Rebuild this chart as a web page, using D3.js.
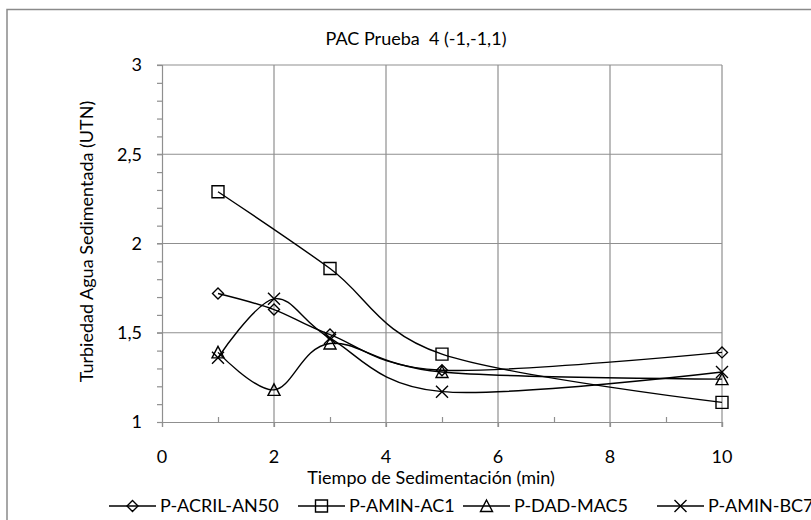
<!DOCTYPE html>
<html>
<head>
<meta charset="utf-8">
<script src="https://cdn.jsdelivr.net/npm/d3@7"></script>
<style>
  html, body { margin: 0; padding: 0; background: #fff; }
  svg { display: block; }
  text { font-family: Lato, "Open Sans", sans-serif; fill: #000; }
</style>
</head>
<body>
<svg id="chart" width="811" height="520"></svg>
<script>
// ---- data ----
const chartTitle = "PAC Prueba  4 (-1,-1,1)";
const xTitle = "Tiempo de Sedimentación (min)";
const yTitle = "Turbiedad Agua Sedimentada (UTN)";
const seriesNames = ["P-ACRIL-AN50", "P-AMIN-AC1", "P-DAD-MAC5", "P-AMIN-BC7"];
const timesA = [1, 2, 3, 5, 10];
const timesB = [1, 3, 5, 10];
const acrilAN50 = [1.72, 1.63, 1.49, 1.29, 1.39];
const aminAC1 = [2.29, 1.86, 1.38, 1.11];
const dadMAC5 = [1.39, 1.18, 1.44, 1.28, 1.24];
const aminBC7 = [1.36, 1.69, 1.47, 1.17, 1.28];
const xTickValues = [0, 2, 4, 6, 8, 10];
const xTickLabels = ["0", "2", "4", "6", "8", "10"];
const yTickValues = [1, 1.5, 2, 2.5, 3];
const yTickLabels = ["1", "1,5", "2", "2,5", "3"];

const series = [
  { name: seriesNames[0], x: timesA, y: acrilAN50, marker: "diamond" },
  { name: seriesNames[1], x: timesB, y: aminAC1, marker: "square" },
  { name: seriesNames[2], x: timesA, y: dadMAC5, marker: "triangle" },
  { name: seriesNames[3], x: timesA, y: aminBC7, marker: "cross" }
];

// ---- layout ----
const svg = d3.select("#chart");
const plot = { left: 162, right: 722, top: 65, bottom: 422 };
const x = d3.scaleLinear().domain([0, 10]).range([plot.left, plot.right]);
const y = d3.scaleLinear().domain([1, 3]).range([plot.bottom, plot.top]);
const gridColor = "#8f8f8f";
const fontSize = 18;

// outer frame
svg.append("path")
  .attr("d", "M7,522 L7,9.5 L815,9.5")
  .attr("fill", "none").attr("stroke", "#8a8a8a").attr("stroke-width", 1.5);

// horizontal grid
svg.append("g").selectAll("line").data(yTickValues.filter(v => v > 1)).join("line")
  .attr("x1", plot.left - 5).attr("x2", plot.right)
  .attr("y1", d => y(d)).attr("y2", d => y(d))
  .attr("stroke", gridColor).attr("stroke-width", 1.2);

// vertical grid
svg.append("g").selectAll("line").data(xTickValues.filter(v => v > 0)).join("line")
  .attr("x1", d => x(d)).attr("x2", d => x(d))
  .attr("y1", plot.top).attr("y2", plot.bottom + 5)
  .attr("stroke", gridColor).attr("stroke-width", 1.2);

// y axis with minor ticks
const yAxis = d3.axisLeft(y).tickValues(d3.range(1, 3.0001, 0.1)).tickSize(5).tickFormat("");
const gy = svg.append("g").attr("transform", `translate(${plot.left},0)`).call(yAxis);
gy.select(".domain").attr("stroke", gridColor).attr("stroke-width", 1.2);
gy.selectAll(".tick line").attr("stroke", gridColor).attr("stroke-width", 1.2);

// x axis: major ticks down, minor ticks up
const xAxis = d3.axisBottom(x).tickValues(xTickValues).tickSize(5).tickFormat("");
const gx = svg.append("g").attr("transform", `translate(0,${plot.bottom})`).call(xAxis);
gx.select(".domain").attr("stroke", gridColor).attr("stroke-width", 1.2);
gx.selectAll(".tick line").attr("stroke", gridColor).attr("stroke-width", 1.2);
const xMinor = d3.axisTop(x).tickValues([1, 3, 5, 7, 9]).tickSize(5).tickFormat("");
const gxm = svg.append("g").attr("transform", `translate(0,${plot.bottom})`).call(xMinor);
gxm.select(".domain").remove();
gxm.selectAll(".tick line").attr("stroke", gridColor).attr("stroke-width", 1.2);

// tick labels
svg.append("g").selectAll("text").data(yTickValues).join("text")
  .attr("x", 142).attr("y", d => y(d)).attr("dy", "0.35em")
  .attr("text-anchor", "end").style("font-size", fontSize + "px")
  .text((d, i) => yTickLabels[i]);
svg.append("g").selectAll("text").data(xTickValues).join("text")
  .attr("x", d => x(d)).attr("y", 463)
  .attr("text-anchor", "middle").style("font-size", fontSize + "px")
  .text((d, i) => xTickLabels[i]);

// titles
svg.append("text").attr("x", 416).attr("y", 45).attr("text-anchor", "middle")
  .style("font-size", fontSize + "px").style("white-space", "pre").text(chartTitle);
svg.append("text").attr("x", 431).attr("y", 484).attr("text-anchor", "middle")
  .style("font-size", fontSize + "px").text(xTitle);
svg.append("text").attr("transform", `translate(93,${(plot.top + plot.bottom) / 2 - 2}) rotate(-90)`)
  .attr("text-anchor", "middle").style("font-size", fontSize + "px").text(yTitle);

// markers
function markerPath(type) {
  switch (type) {
    case "diamond": return "M0,-5.5 L5.5,0 L0,5.5 L-5.5,0 Z";
    case "square": return "M-6,-6 L6,-6 L6,6 L-6,6 Z";
    case "triangle": return "M0,-6 L6,5.5 L-6,5.5 Z";
    case "cross": return "M-6,-6 L6,6 M6,-6 L-6,6";
  }
}

const line = d3.line().curve(d3.curveCardinal.tension(0));
const gSeries = svg.append("g");
series.forEach(s => {
  const pts = s.x.map((xv, i) => [x(xv), y(s.y[i])]);
  gSeries.append("path").attr("d", line(pts))
    .attr("fill", "none").attr("stroke", "#000").attr("stroke-width", 1.4);
});
series.forEach(s => {
  gSeries.append("g").selectAll("path").data(s.x.map((xv, i) => [x(xv), y(s.y[i])])).join("path")
    .attr("transform", d => `translate(${d[0]},${d[1]})`)
    .attr("d", markerPath(s.marker))
    .attr("fill", "none").attr("stroke", "#000").attr("stroke-width", 1.4);
});

// legend
const legendStarts = [109, 298, 463, 657];
const legendY = 506;
const lg = svg.append("g");
series.forEach((s, i) => {
  const x0 = legendStarts[i];
  lg.append("line").attr("x1", x0).attr("x2", x0 + 47).attr("y1", legendY).attr("y2", legendY)
    .attr("stroke", "#000").attr("stroke-width", 1.4);
  lg.append("path").attr("transform", `translate(${x0 + 23.5},${legendY})`)
    .attr("d", markerPath(s.marker)).attr("fill", "none").attr("stroke", "#000").attr("stroke-width", 1.4);
  lg.append("text").attr("x", x0 + 51).attr("y", legendY).attr("dy", "0.36em")
    .style("font-size", fontSize + "px").text(s.name);
});
</script>
</body>
</html>
